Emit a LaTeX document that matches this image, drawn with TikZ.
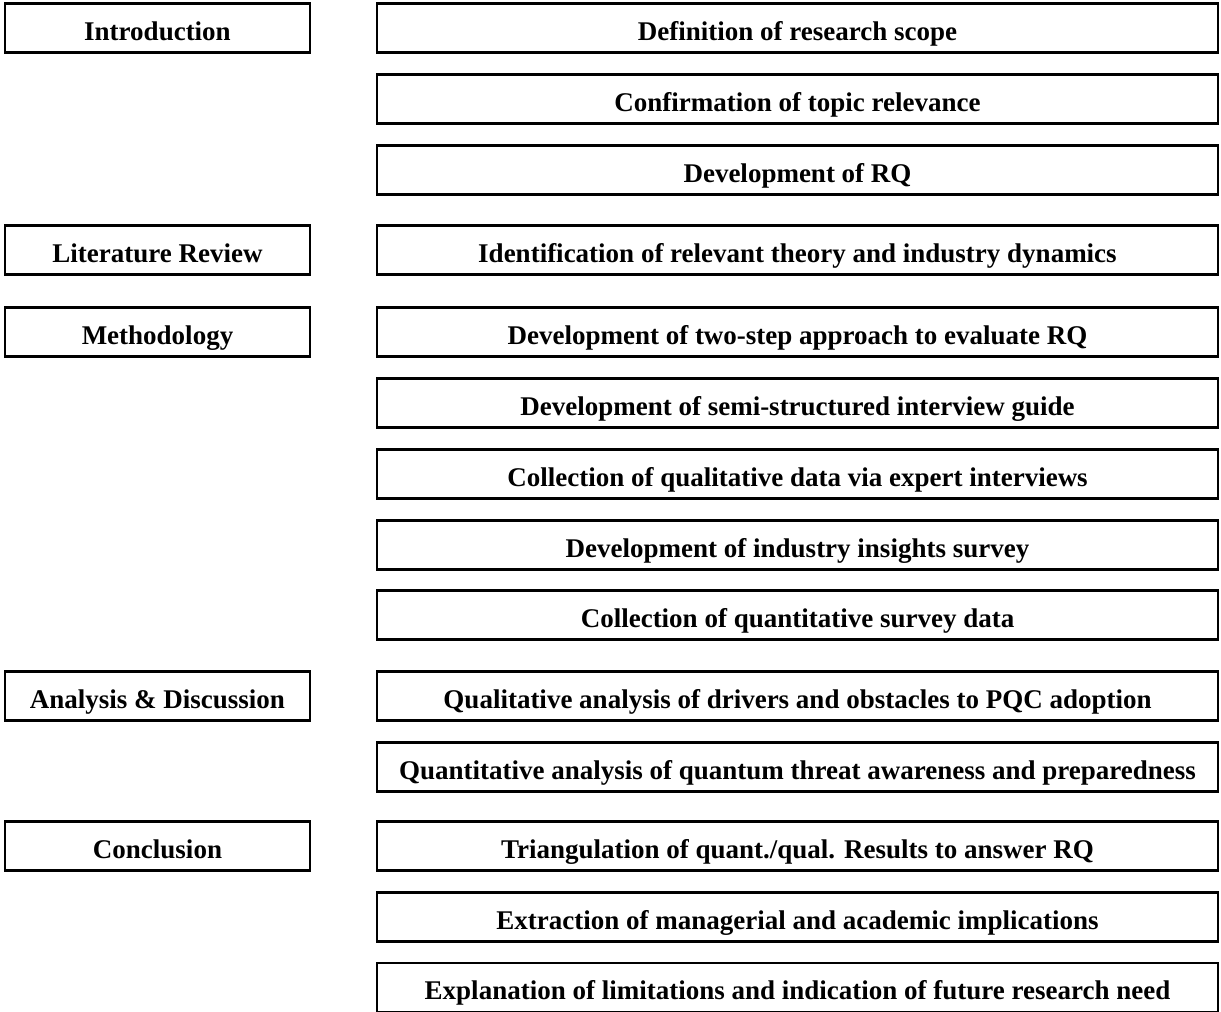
\documentclass[tikz,border=0pt]{standalone}
\usepackage{fontspec}
\setmainfont{Liberation Serif}
\begin{document}
\begin{tikzpicture}[x=0.5pt,y=-0.5pt,
    chapter/.style={draw,line width=1.3pt,minimum width=152.5pt,minimum height=24.5pt,
      inner sep=0pt,text height=12pt,text depth=0pt,
      font=\fontsize{13.5}{16}\selectfont\bfseries},
    task/.style={chapter,minimum width=420.5pt}]
    \useasboundingbox (0,0) rectangle (1221,1012);
    %\draw[ultra thin,gray!20] (0,0) grid[step=50] (1221,1012);
    % chapters
    \node[chapter] (intro) at (157.5,28) {Introduction};
    \node[chapter] (litrev) at (157.5,250) {Literature Review};
    \node[chapter] (method) at (157.5,332) {Methodology};
    \node[chapter] (analysis) at (157.5,696) {Analysis \& Discussion};
    \node[chapter] (concl) at (157.5,846) {Conclusion};
    % tasks
    \node[task] (scope) at (797.5,28) {Definition of research scope};
    \node[task] (relev) at (797.5,99) {Confirmation of topic relevance};
    \node[task] (rq) at (797.5,170) {Development of RQ};
    \node[task] (theory) at (797.5,250) {Identification of relevant theory and industry dynamics};
    \node[task] (twostep) at (797.5,332) {Development of two-step approach to evaluate RQ};
    \node[task] (guide) at (797.5,403) {Development of semi-structured interview guide};
    \node[task] (interv) at (797.5,474) {Collection of qualitative data via expert interviews};
    \node[task] (survey) at (797.5,545) {Development of industry insights survey};
    \node[task] (quantdata) at (797.5,615) {Collection of quantitative survey data};
    \node[task] (qualan) at (797.5,696) {Qualitative analysis of drivers and obstacles to PQC adoption};
    \node[task] (quantan) at (797.5,767) {Quantitative analysis of quantum threat awareness and preparedness};
    \node[task] (triang) at (797.5,846) {Triangulation of quant./qual. Results to answer RQ};
    \node[task] (implic) at (797.5,917) {Extraction of managerial and academic implications};
    \node[task] (limits) at (797.5,987.5) {Explanation of limitations and indication of future research need};
\end{tikzpicture}
\end{document}
